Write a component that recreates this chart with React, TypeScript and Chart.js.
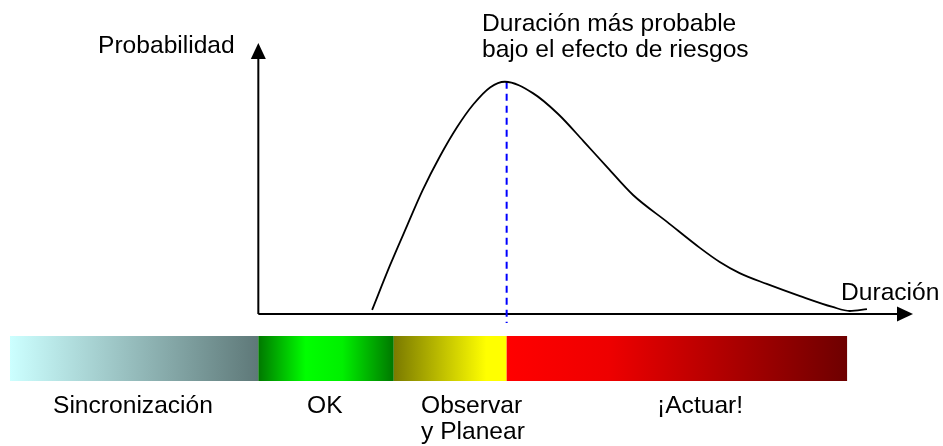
import React, { useEffect, useRef } from "react";
import { Chart, registerables } from "chart.js";

Chart.register(...registerables);

// Duration axis (arbitrary units 0..100), probability axis (0..100)
const curveX = [40.1, 42.1, 44.0, 45.7, 47.6, 49.5, 51.3, 53.2, 54.8, 57.9, 60.7, 63.5, 66.2, 69.0, 72.8, 76.4, 78.6, 80.8, 83.8, 87.5, 91.1, 93.0, 94.9];
const curveY = [1.5, 18.1, 32.8, 45.7, 58.1, 68.9, 77.3, 83.7, 85.7, 81.5, 73.8, 63.8, 53.9, 43.9, 33.9, 24.4, 19.2, 15.1, 11.1, 6.6, 2.6, 1.1, 1.8];
const modeX = 55.0;
const modeY = [85.7, -3.3];

const phaseLabels = ["Sincronización", "OK", "Observar\ny Planear", "¡Actuar!"];
const phaseBounds = [0, 27.5, 42.5, 55.0, 92.7];
const phaseColors = [
  [[0, "#CCFFFF"], [1, "#5E7878"]],
  [[0, "#007800"], [0.35, "#00FF00"], [0.62, "#00F000"], [1, "#007800"]],
  [[0, "#7A7A00"], [0.82, "#FFFF00"], [1, "#FFFF00"]],
  [[0, "#FF0000"], [0.3, "#EE0000"], [1, "#6E0000"]],
];

const axisOriginX = 27.5;
const yAxisLabel = "Probabilidad";
const xAxisLabel = "Duración";
const modeLabel = ["Duración más probable", "bajo el efecto de riesgos"];

const FONT = '24.6px "Liberation Sans", Arial, sans-serif';

const diagramPlugin = {
  id: "diagram",
  beforeDatasetsDraw(chart: any) {
    const ctx = chart.ctx;
    const xs = chart.scales.x;
    const ys = chart.scales.y;
    const ox = xs.getPixelForValue(axisOriginX);
    const oy = ys.getPixelForValue(0);
    const top = ys.getPixelForValue(100);
    const right = xs.getPixelForValue(100);
    ctx.save();
    ctx.strokeStyle = "#000";
    ctx.fillStyle = "#000";
    ctx.lineWidth = 2;
    // y axis
    ctx.beginPath();
    ctx.moveTo(ox, oy);
    ctx.lineTo(ox, top + 14);
    ctx.stroke();
    ctx.beginPath();
    ctx.moveTo(ox, top);
    ctx.lineTo(ox - 7.5, top + 16);
    ctx.lineTo(ox + 7.5, top + 16);
    ctx.closePath();
    ctx.fill();
    // x axis
    ctx.beginPath();
    ctx.moveTo(ox, oy);
    ctx.lineTo(right - 14, oy);
    ctx.stroke();
    ctx.beginPath();
    ctx.moveTo(right, oy);
    ctx.lineTo(right - 16, oy - 7.5);
    ctx.lineTo(right - 16, oy + 7.5);
    ctx.closePath();
    ctx.fill();

    // phase bar
    const barTop = 336;
    const barBottom = 381;
    for (let i = 0; i < phaseLabels.length; i++) {
      const x0 = xs.getPixelForValue(phaseBounds[i]);
      const x1 = xs.getPixelForValue(phaseBounds[i + 1]);
      const g = ctx.createLinearGradient(x0, 0, x1, 0);
      for (const [stop, col] of phaseColors[i] as any) g.addColorStop(stop, col);
      ctx.fillStyle = g;
      ctx.fillRect(x0, barTop, x1 - x0, barBottom - barTop);
    }

    // texts
    ctx.fillStyle = "#000";
    ctx.font = FONT;
    ctx.textBaseline = "alphabetic";
    ctx.textAlign = "left";
    ctx.fillText(yAxisLabel, 98, 53);
    ctx.fillText(xAxisLabel, 841, 300);
    ctx.fillText(modeLabel[0], 482, 31);
    ctx.fillText(modeLabel[1], 482, 57);

    const labelX = [53, 307, 421, 657];
    for (let i = 0; i < phaseLabels.length; i++) {
      const lines = phaseLabels[i].split("\n");
      lines.forEach((ln, j) => ctx.fillText(ln, labelX[i], 413 + j * 26));
    }
    ctx.restore();
  },
};

export default function App() {
  const ref = useRef<HTMLCanvasElement | null>(null);
  useEffect(() => {
    if (!ref.current) return;
    const chart = new Chart(ref.current, {
      type: "scatter",
      data: {
        datasets: [
          {
            data: curveX.map((x, i) => ({ x, y: curveY[i] })),
            showLine: true,
            borderColor: "#000",
            borderWidth: 1.8,
            pointRadius: 0,
            cubicInterpolationMode: "monotone",
            clip: false,
          } as any,
          {
            data: modeY.map((y) => ({ x: modeX, y })),
            showLine: true,
            borderColor: "#0000FF",
            borderWidth: 2,
            borderDash: [7, 5],
            pointRadius: 0,
            clip: false,
          } as any,
        ],
      },
      options: {
        animation: false,
        responsive: false,
        layout: { padding: { left: 10, right: 30, top: 43, bottom: 132 } },
        scales: {
          x: { type: "linear", min: 0, max: 100, display: false },
          y: { type: "linear", min: 0, max: 100, display: false },
        },
        plugins: { legend: { display: false }, tooltip: { enabled: false } },
      },
      plugins: [diagramPlugin],
    });
    return () => chart.destroy();
  }, []);
  return (
    <div style={{ position: "absolute", left: 0, top: 0, width: 943, height: 446, background: "#fff" }}>
      <canvas ref={ref} width={943} height={446} style={{ width: 943, height: 446 }} />
    </div>
  );
}
